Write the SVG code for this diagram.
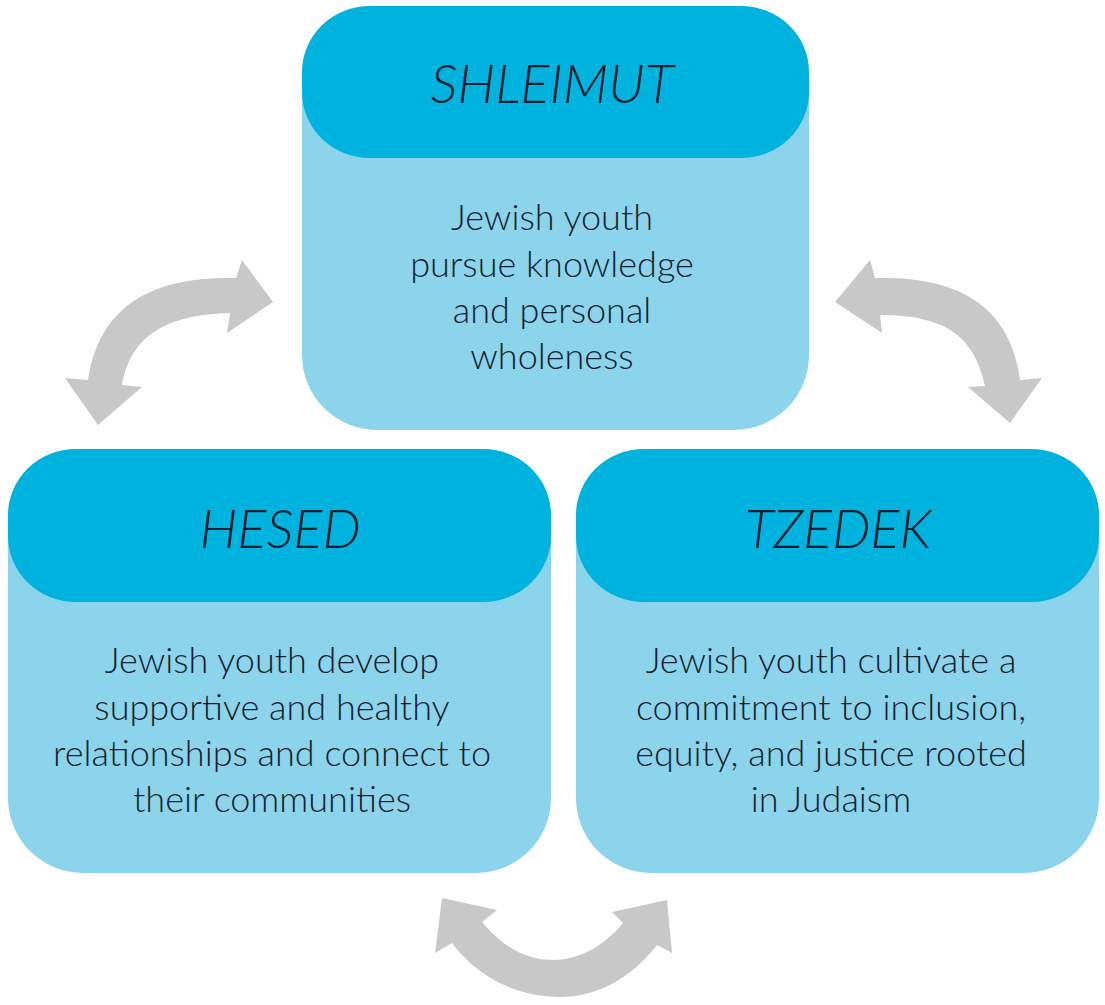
<svg xmlns="http://www.w3.org/2000/svg" width="1105" height="1005" viewBox="0 0 1105 1005">
<style>
.hdr{fill:#00B3DE}
.body{fill:#8CD3EC}
.title{font-family:Lato,"Open Sans","Liberation Sans",sans-serif;font-weight:300;font-style:italic;font-size:54px;fill:#0f1e2d;text-anchor:middle}
.txt{font-family:Lato,"Open Sans","Liberation Sans",sans-serif;font-weight:300;font-size:36px;fill:#0f1e2d;text-anchor:middle}
.arrow{fill:#C8C8C8}
</style>
<rect width="1105" height="1005" fill="#ffffff"/>
<g id="connectors">
<path class="arrow" d="M273,302 L242,260 L236,278 C160,276 100,300 88,380 L65,378 L98,425 L142,387 L122,385 C130,340 160,315 230,313 L227,333 Z"/>
<path class="arrow" d="M835,302 L870,260 L875,278 C950,276 1010,300 1020,380 L1042,378 L1010,423 L968,387 L985,386 C975,340 950,315 880,315 L882,333 Z"/>
<path class="arrow" d="M442,898 L497,910 L482,922 C505,950 530,960 553,960 C580,960 605,945 623,923 L612,912 L667,900 L672,953 L657,945 C630,980 595,997 560,997 C520,997 480,980 452,943 L435,953 Z"/>
</g>
<g id="shleimut">
<path class="body" d="M302,82 H809 V355 A75,75 0 0 1 734,430 H377 A75,75 0 0 1 302,355 Z"/>
<rect class="hdr" x="302" y="6" width="507" height="152" rx="68" ry="66"/>
<text class="title" x="552" y="103">SHLEIMUT</text>
<text class="txt" x="552" y="230">Jewish youth</text>
<text class="txt" x="552" y="277">pursue knowledge</text>
<text class="txt" x="552" y="323">and personal</text>
<text class="txt" x="552" y="369">wholeness</text>
</g>
<g id="hesed">
<path class="body" d="M8,525 H551 V798 A75,75 0 0 1 476,873 H83 A75,75 0 0 1 8,798 Z"/>
<rect class="hdr" x="8" y="449" width="543" height="153" rx="68" ry="66"/>
<text class="title" x="280" y="548">HESED</text>
<text class="txt" x="272" y="673">Jewish youth develop</text>
<text class="txt" x="272" y="720">supportive and healthy</text>
<text class="txt" x="272" y="766">relationships and connect to</text>
<text class="txt" x="272" y="812">their communities</text>
</g>
<g id="tzedek">
<path class="body" d="M576,525 H1099 V798 A75,75 0 0 1 1024,873 H651 A75,75 0 0 1 576,798 Z"/>
<rect class="hdr" x="576" y="449" width="523" height="153" rx="68" ry="66"/>
<text class="title" x="838" y="548">TZEDEK</text>
<text class="txt" x="831" y="673">Jewish youth cultivate a</text>
<text class="txt" x="831" y="720">commitment to inclusion,</text>
<text class="txt" x="831" y="766">equity, and justice rooted</text>
<text class="txt" x="831" y="812">in Judaism</text>
</g>
</svg>
